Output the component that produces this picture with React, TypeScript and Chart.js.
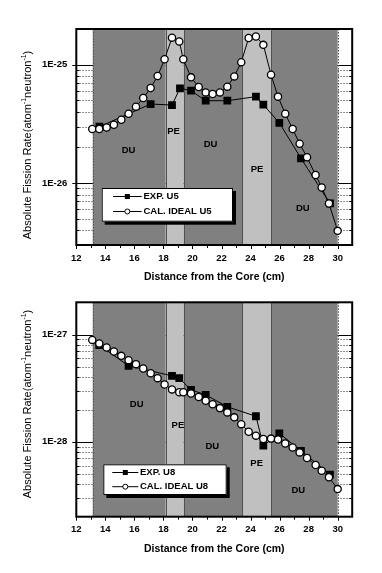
import React, { useEffect, useRef } from 'react';
import { Chart, registerables } from 'chart.js';

Chart.register(...registerables);

const FONT = '"Liberation Sans", Arial, Helvetica, sans-serif';

// ---- shared axis data ----
const X_MIN = 12;
const X_MAX = 31;
const X_MAJOR_TICKS = [12, 14, 16, 18, 20, 22, 24, 26, 28, 30];
const X_MINOR_TICKS = [13, 15, 17, 19, 21, 23, 25, 27, 29];
const X_TITLE = 'Distance from the Core (cm)';
const Y_TITLE_PARTS = ['Absolute Fission Rate(atom', '-1', 'neutron', '-1', ')'];

// ---- material regions ----
const REGION_EDGES = [13.13, 18.16, 19.4, 23.41, 25.41, 30];
const REGION_NAMES = ['DU', 'PE', 'DU', 'PE', 'DU'];

// ---- calculated positions (cm) ----
const CAL_X = [
  13.1, 13.58, 14.09, 14.59, 15.1, 15.6, 16.11, 16.61, 17.12, 17.6, 18.08, 18.59,
  19.09, 19.37, 19.9, 20.43, 20.91, 21.39, 21.89, 22.4, 22.88, 23.36, 23.87, 24.37,
  24.88, 25.41, 25.89, 26.39, 26.9, 27.38, 27.89, 28.48, 28.9, 29.4, 30.0,
];

// ---- U5 chart ----
const U5_CAL = [
  2.86e-26, 2.86e-26, 2.95e-26, 3.11e-26, 3.43e-26, 3.85e-26, 4.42e-26, 5.23e-26,
  6.35e-26, 8.02e-26, 1.11e-25, 1.69e-25, 1.57e-25, 1.11e-25, 7.81e-26, 6.47e-26,
  5.83e-26, 5.65e-26, 5.83e-26, 6.52e-26, 7.96e-26, 1.05e-25, 1.68e-25, 1.73e-25,
  1.47e-25, 8.23e-26, 5.37e-26, 3.85e-26, 2.86e-26, 2.15e-26, 1.65e-26, 1.17e-26,
  9.18e-27, 6.73e-27, 3.95e-27,
];
const U5_EXP_X = [13.59, 17.12, 18.59, 19.14, 19.9, 20.91, 22.4, 24.37, 24.88, 25.98, 27.47, 29.47];
const U5_EXP = [
  2.99e-26, 4.65e-26, 4.56e-26, 6.31e-26, 6.03e-26, 4.96e-26, 4.96e-26, 5.37e-26,
  4.59e-26, 3.23e-26, 1.62e-26, 6.73e-27,
];
const U5_Y_MIN = 3e-27;
const U5_Y_MAX = 2e-25;
const U5_MAJOR = [1e-26, 1e-25];
const U5_MAJOR_LABELS = ['1E-26', '1E-25'];
const U5_MINOR = [4e-27, 5e-27, 6e-27, 7e-27, 8e-27, 9e-27, 2e-26, 3e-26, 4e-26, 5e-26, 6e-26, 7e-26, 8e-26, 9e-26];
const U5_REGION_LABEL_X = [15.6, 18.7, 21.25, 24.45, 27.6];
const U5_REGION_LABEL_Y = [1.89e-26, 2.73e-26, 2.11e-26, 1.31e-26, 6.07e-27];
const U5_LEGEND = ['EXP. U5', 'CAL. IDEAL U5'];

// ---- U8 chart ----
const U8_CAL = [
  8.92e-28, 8.25e-28, 7.57e-28, 6.95e-28, 6.33e-28, 5.77e-28, 5.3e-28, 4.82e-28,
  4.36e-28, 3.92e-28, 3.42e-28, 3.08e-28, 2.9e-28, 2.9e-28, 2.82e-28, 2.62e-28,
  2.41e-28, 2.24e-28, 2.06e-28, 1.88e-28, 1.69e-28, 1.46e-28, 1.24e-28, 1.14e-28,
  1.06e-28, 1.07e-28, 1.05e-28, 9.64e-29, 8.85e-29, 7.96e-29, 7.05e-29, 6.07e-29,
  5.37e-29, 4.66e-29, 3.62e-29,
];
const U8_EXP_X = [13.58, 15.6, 18.59, 19.09, 19.9, 20.91, 22.4, 24.37, 24.88, 25.98, 27.47, 29.47];
const U8_EXP = [
  7.96e-28, 5.11e-28, 4.12e-28, 3.92e-28, 3.05e-28, 2.74e-28, 2.12e-28, 1.73e-28,
  9.19e-29, 1.2e-28, 8.24e-29, 4.93e-29,
];
const U8_Y_MIN = 2e-29;
const U8_Y_MAX = 2e-27;
const U8_MAJOR = [1e-28, 1e-27];
const U8_MAJOR_LABELS = ['1E-28', '1E-27'];
const U8_MINOR = [3e-29, 4e-29, 5e-29, 6e-29, 7e-29, 8e-29, 9e-29, 2e-28, 3e-28, 4e-28, 5e-28, 6e-28, 7e-28, 8e-28, 9e-28];
const U8_REGION_LABEL_X = [16.16, 19.0, 21.37, 24.42, 27.29];
const U8_REGION_LABEL_Y = [2.24e-28, 1.41e-28, 9.06e-29, 6.34e-29, 3.5e-29];
const U8_LEGEND = ['EXP. U8', 'CAL. IDEAL U8'];

type Cfg = {
  id: string;
  height: number;
  padding: { left: number; right: number; top: number; bottom: number };
  yMin: number;
  yMax: number;
  cal: number[];
  expX: number[];
  exp: number[];
  major: number[];
  majorLabels: string[];
  minor: number[];
  labelX: number[];
  labelY: number[];
  legend: string[];
  legendBox: { x: number; y: number; w: number; h: number; row1: number; row2: number; lineX0: number; lineX1: number; textX: number };
  yTitleCenter: number;
};

function makeDecor(cfg: Cfg) {
  return {
    id: 'decor_' + cfg.id,
    beforeDatasetsDraw(chart: any) {
      const { ctx, chartArea: a } = chart;
      const x = chart.scales.x;
      const y = chart.scales.y;
      ctx.save();
      // minor grid (dotted)
      ctx.strokeStyle = '#6a6a6a';
      ctx.lineWidth = 1;
      ctx.setLineDash([1.5, 1.5]);
      cfg.minor.forEach((v) => {
        const py = Math.round(y.getPixelForValue(v)) + 0.5;
        ctx.beginPath();
        ctx.moveTo(a.left, py);
        ctx.lineTo(a.right, py);
        ctx.stroke();
      });
      ctx.setLineDash([]);
      ctx.strokeStyle = '#000';
      cfg.major.forEach((v) => {
        const py = Math.round(y.getPixelForValue(v)) + 0.5;
        ctx.beginPath();
        ctx.moveTo(a.left, py);
        ctx.lineTo(a.right, py);
        ctx.stroke();
      });
      // regions
      for (let i = 0; i < REGION_NAMES.length; i++) {
        const x0 = x.getPixelForValue(REGION_EDGES[i]);
        const x1 = x.getPixelForValue(REGION_EDGES[i + 1]);
        ctx.fillStyle = REGION_NAMES[i] === 'DU' ? '#808080' : '#c0c0c0';
        ctx.fillRect(x0, a.top, x1 - x0, a.bottom - a.top);
      }
      ctx.lineWidth = 1;
      REGION_EDGES.forEach((e, i) => {
        const px = Math.round(x.getPixelForValue(e)) + 0.5;
        ctx.strokeStyle = '#505050';
        if (i === 0 || i === REGION_EDGES.length - 1) ctx.setLineDash([1.5, 1.5]);
        else ctx.setLineDash([]);
        ctx.beginPath();
        ctx.moveTo(px, a.top);
        ctx.lineTo(px, a.bottom);
        ctx.stroke();
      });
      ctx.setLineDash([]);
      // region labels
      ctx.fillStyle = '#000';
      ctx.font = `bold 9.5px ${FONT}`;
      ctx.textAlign = 'center';
      ctx.textBaseline = 'middle';
      REGION_NAMES.forEach((n, i) => {
        ctx.fillText(n, x.getPixelForValue(cfg.labelX[i]), y.getPixelForValue(cfg.labelY[i]));
      });
      ctx.restore();
    },
    afterDatasetsDraw(chart: any) {
      const { ctx, chartArea: a } = chart;
      const x = chart.scales.x;
      const y = chart.scales.y;
      ctx.save();
      ctx.strokeStyle = '#000';
      ctx.lineWidth = 1;
      // x ticks
      X_MAJOR_TICKS.forEach((v) => {
        const px = Math.round(x.getPixelForValue(v)) + 0.5;
        ctx.beginPath();
        ctx.moveTo(px, a.bottom);
        ctx.lineTo(px, a.bottom + 4);
        ctx.stroke();
      });
      X_MINOR_TICKS.forEach((v) => {
        const px = Math.round(x.getPixelForValue(v)) + 0.5;
        ctx.beginPath();
        ctx.moveTo(px, a.bottom);
        ctx.lineTo(px, a.bottom + 3);
        ctx.stroke();
      });
      // y ticks
      cfg.major.forEach((v) => {
        const py = Math.round(y.getPixelForValue(v)) + 0.5;
        ctx.beginPath();
        ctx.moveTo(a.left - 4, py);
        ctx.lineTo(a.left, py);
        ctx.stroke();
      });
      cfg.minor.forEach((v) => {
        const py = Math.round(y.getPixelForValue(v)) + 0.5;
        ctx.beginPath();
        ctx.moveTo(a.left, py);
        ctx.lineTo(a.left + 3, py);
        ctx.moveTo(a.right - 3, py);
        ctx.lineTo(a.right, py);
        ctx.stroke();
      });
      // frame
      ctx.lineWidth = 2;
      ctx.strokeRect(a.left, a.top, a.right - a.left, a.bottom - a.top);
      // tick labels
      ctx.fillStyle = '#000';
      ctx.font = `bold 9.5px ${FONT}`;
      ctx.textAlign = 'center';
      ctx.textBaseline = 'middle';
      X_MAJOR_TICKS.forEach((v) => {
        ctx.fillText(String(v), x.getPixelForValue(v), a.bottom + 13);
      });
      ctx.textAlign = 'right';
      cfg.major.forEach((v, i) => {
        ctx.fillText(cfg.majorLabels[i], a.left - 9, y.getPixelForValue(v));
      });
      // x title
      ctx.textAlign = 'center';
      ctx.font = `bold 10.5px ${FONT}`;
      ctx.fillText(X_TITLE, (a.left + a.right) / 2, a.bottom + 32);
      // y title with superscripts
      const big = `11px ${FONT}`;
      const small = `7px ${FONT}`;
      const widths = Y_TITLE_PARTS.map((p, i) => {
        ctx.font = i % 2 === 1 ? small : big;
        return ctx.measureText(p).width;
      });
      const total = widths.reduce((s, w) => s + w, 0);
      ctx.translate(28, cfg.yTitleCenter);
      ctx.rotate(-Math.PI / 2);
      ctx.textAlign = 'left';
      ctx.textBaseline = 'middle';
      let cx = -total / 2;
      Y_TITLE_PARTS.forEach((p, i) => {
        const sup = i % 2 === 1;
        ctx.font = sup ? small : big;
        ctx.fillText(p, cx, sup ? -4 : 0);
        cx += widths[i];
      });
      ctx.restore();

      // legend
      const L = cfg.legendBox;
      ctx.save();
      ctx.fillStyle = '#000';
      ctx.fillRect(L.x + 3, L.y + 3, L.w, L.h);
      ctx.fillStyle = '#fff';
      ctx.fillRect(L.x, L.y, L.w, L.h);
      ctx.strokeStyle = '#000';
      ctx.lineWidth = 1;
      ctx.strokeRect(L.x + 0.5, L.y + 0.5, L.w - 1, L.h - 1);
      const rows = [L.y + L.row1, L.y + L.row2];
      const mid = (L.lineX0 + L.lineX1) / 2;
      rows.forEach((ry, i) => {
        ctx.strokeStyle = '#000';
        ctx.lineWidth = 1;
        ctx.beginPath();
        ctx.moveTo(L.lineX0, ry);
        ctx.lineTo(L.lineX1, ry);
        ctx.stroke();
        if (i === 0) {
          ctx.fillStyle = '#000';
          ctx.fillRect(mid - 2.5, ry - 2.5, 5, 5);
        } else {
          ctx.fillStyle = '#fff';
          ctx.beginPath();
          ctx.arc(mid, ry, 2.5, 0, Math.PI * 2);
          ctx.fill();
          ctx.stroke();
        }
        ctx.fillStyle = '#000';
        ctx.font = `bold 9.5px ${FONT}`;
        ctx.textAlign = 'left';
        ctx.textBaseline = 'middle';
        ctx.fillText(cfg.legend[i], L.textX, ry);
      });
      ctx.restore();
    },
  };
}

function FissionChart({ cfg }: { cfg: Cfg }) {
  const ref = useRef<HTMLCanvasElement | null>(null);
  useEffect(() => {
    if (!ref.current) return;
    const chart = new Chart(ref.current, {
      type: 'line',
      data: {
        datasets: [
          {
            label: cfg.legend[1],
            data: CAL_X.map((xv, i) => ({ x: xv, y: cfg.cal[i] })),
            borderColor: '#000',
            borderWidth: 1,
            pointStyle: 'circle',
            pointRadius: 3.6,
            pointBackgroundColor: '#fff',
            pointBorderColor: '#000',
            pointBorderWidth: 1.3,
            fill: false,
            tension: 0,
          },
          {
            label: cfg.legend[0],
            data: cfg.expX.map((xv, i) => ({ x: xv, y: cfg.exp[i] })),
            borderColor: '#000',
            borderWidth: 1,
            pointStyle: 'rect',
            pointRadius: 5.5,
            pointBackgroundColor: '#000',
            pointBorderColor: '#000',
            pointBorderWidth: 0,
            fill: false,
            tension: 0,
          },
        ],
      },
      options: {
        responsive: false,
        animation: false,
        events: [],
        layout: { padding: cfg.padding },
        scales: {
          x: { type: 'linear', min: X_MIN, max: X_MAX, display: false },
          y: { type: 'logarithmic', min: cfg.yMin, max: cfg.yMax, display: false },
        },
        plugins: { legend: { display: false }, tooltip: { enabled: false } },
      },
      plugins: [makeDecor(cfg)],
    } as any);
    return () => chart.destroy();
  }, [cfg]);
  return <canvas ref={ref} width={382} height={cfg.height} style={{ display: 'block', width: 382, height: cfg.height }} />;
}

const TOP_CFG: Cfg = {
  id: 'u5',
  height: 286,
  padding: { left: 76.3, right: 29.8, top: 29, bottom: 41 },
  yMin: U5_Y_MIN,
  yMax: U5_Y_MAX,
  cal: U5_CAL,
  expX: U5_EXP_X,
  exp: U5_EXP,
  major: U5_MAJOR,
  majorLabels: U5_MAJOR_LABELS,
  minor: U5_MINOR,
  labelX: U5_REGION_LABEL_X,
  labelY: U5_REGION_LABEL_Y,
  legend: U5_LEGEND,
  legendBox: { x: 101.7, y: 188, w: 131.3, h: 33.7, row1: 8.5, row2: 23.5, lineX0: 113, lineX1: 141.7, textX: 143.5 },
  yTitleCenter: 145,
};

const BOTTOM_CFG: Cfg = {
  id: 'u8',
  height: 287,
  padding: { left: 76.3, right: 29.8, top: 16.3, bottom: 56.3 },
  yMin: U8_Y_MIN,
  yMax: U8_Y_MAX,
  cal: U8_CAL,
  expX: U8_EXP_X,
  exp: U8_EXP,
  major: U8_MAJOR,
  majorLabels: U8_MAJOR_LABELS,
  minor: U8_MINOR,
  labelX: U8_REGION_LABEL_X,
  labelY: U8_REGION_LABEL_Y,
  legend: U8_LEGEND,
  legendBox: { x: 103.3, y: 178.3, w: 123.4, h: 30.7, row1: 8.2, row2: 22.4, lineX0: 112.3, lineX1: 138.3, textX: 140 },
  yTitleCenter: 118,
};

export default function App() {
  return (
    <div style={{ position: 'absolute', left: 0, top: 0, width: 382, height: 573, background: '#fff' }}>
      <FissionChart cfg={TOP_CFG} />
      <FissionChart cfg={BOTTOM_CFG} />
    </div>
  );
}
